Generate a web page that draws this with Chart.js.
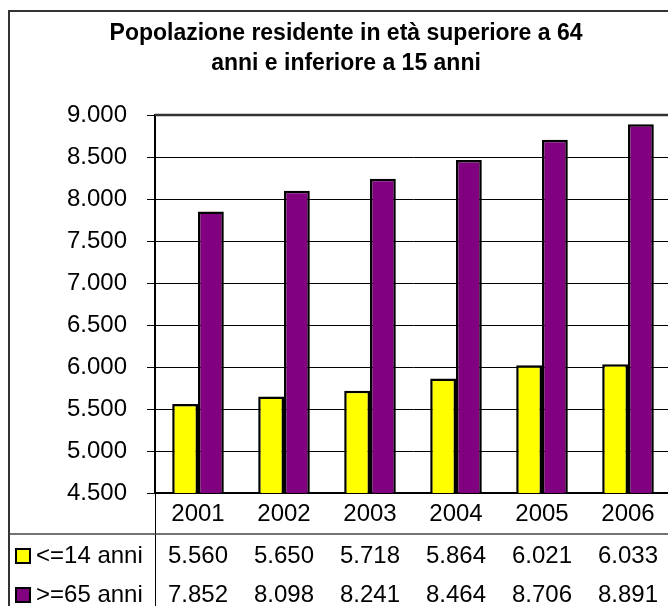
<!DOCTYPE html>
<html>
<head>
<meta charset="utf-8">
<script src="https://cdn.jsdelivr.net/npm/chart.js@4.4.1/dist/chart.umd.min.js"></script>
<style>
html,body{margin:0;padding:0;overflow:hidden;background:#fff;}
#wrap{width:690px;height:606px;}
</style>
</head>
<body>
<div id="wrap"><canvas id="c" width="690" height="606"></canvas></div>
<script>
const titleLines = ['Popolazione residente in età superiore a 64', 'anni e inferiore a 15 anni'];
const years = ['2001', '2002', '2003', '2004', '2005', '2006'];
const under15Label = '<=14 anni';
const under15 = [5560, 5650, 5718, 5864, 6021, 6033];
const over65Label = '>=65 anni';
const over65 = [7852, 8098, 8241, 8464, 8706, 8891];
const yMin = 4500, yMax = 9000, yStep = 500;

const FONT = '"Liberation Sans", Arial, sans-serif';
const fmt = v => String(v).replace(/\B(?=(\d{3})+(?!\d))/g, '.');

const frame = {
  id: 'frame',
  afterDraw(chart) {
    const ctx = chart.ctx, ca = chart.chartArea, xs = chart.scales.x;
    ctx.save();
    // outer border
    ctx.strokeStyle = '#333'; ctx.lineWidth = 2;
    ctx.beginPath();
    ctx.moveTo(9, chart.height + 5); ctx.lineTo(9, 11); ctx.lineTo(chart.width + 5, 11);
    ctx.stroke();
    // title
    ctx.fillStyle = '#000';
    ctx.font = 'bold 23px ' + FONT;
    ctx.textAlign = 'center'; ctx.textBaseline = 'alphabetic';
    ctx.fillText(titleLines[0], 346, 40);
    ctx.fillText(titleLines[1], 346, 70);
    // plot top border
    ctx.strokeStyle = '#333'; ctx.lineWidth = 2.5;
    ctx.beginPath(); ctx.moveTo(ca.left, ca.top); ctx.lineTo(chart.width, ca.top); ctx.stroke();
    // table lines
    ctx.strokeStyle = '#000'; ctx.lineWidth = 1;
    ctx.beginPath(); ctx.moveTo(ca.left + 0.5, ca.bottom); ctx.lineTo(ca.left + 0.5, chart.height); ctx.stroke();
    ctx.strokeStyle = '#444'; ctx.lineWidth = 1.5;
    ctx.beginPath(); ctx.moveTo(9, 534); ctx.lineTo(chart.width, 534); ctx.stroke();
    // table rows
    const rows = [
      {label: under15Label, data: under15, color: chart.data.datasets[0].backgroundColor, base: 563},
      {label: over65Label, data: over65, color: chart.data.datasets[1].backgroundColor, base: 602}
    ];
    ctx.font = '24px ' + FONT;
    rows.forEach(r => {
      ctx.fillStyle = '#000';
      ctx.textAlign = 'center';
      r.data.forEach((v, i) => ctx.fillText(fmt(v), xs.getPixelForValue(i), r.base));
      ctx.textAlign = 'left';
      ctx.fillText(r.label, 36, r.base);
      ctx.fillStyle = r.color;
      ctx.fillRect(16, r.base - 14, 14, 14);
      ctx.strokeStyle = '#000'; ctx.lineWidth = 2;
      ctx.strokeRect(16, r.base - 14, 14, 14);
    });
    ctx.restore();
  }
};

new Chart(document.getElementById('c'), {
  type: 'bar',
  data: {
    labels: years,
    datasets: [
      {label: under15Label, data: under15, backgroundColor: '#FFFF00', borderColor: '#000', borderWidth: 2.5},
      {label: over65Label, data: over65, backgroundColor: '#800080', borderColor: '#000', borderWidth: 2.5}
    ]
  },
  options: {
    responsive: false,
    animation: false,
    events: [],
    layout: {padding: {top: 115, left: 0, right: 19, bottom: 0}},
    datasets: {bar: {categoryPercentage: 0.6, barPercentage: 1}},
    plugins: {legend: {display: false}, title: {display: false}, tooltip: {enabled: false}},
    scales: {
      x: {
        grid: {display: false, drawTicks: false},
        border: {display: true, color: '#000', width: 2},
        ticks: {color: '#000', font: {family: FONT, size: 24}, padding: 7, maxRotation: 0, autoSkip: false},
        afterFit: s => { s.height = 113; }
      },
      y: {
        min: yMin, max: yMax,
        grid: {color: '#000', lineWidth: 1, tickLength: 8, tickColor: '#000'},
        border: {display: true, color: '#000', width: 2},
        ticks: {stepSize: yStep, color: '#000', font: {family: FONT, size: 24}, padding: 20, callback: v => fmt(v)},
        afterFit: s => { s.width = 155; }
      }
    }
  },
  plugins: [frame]
});
</script>
</body>
</html>
